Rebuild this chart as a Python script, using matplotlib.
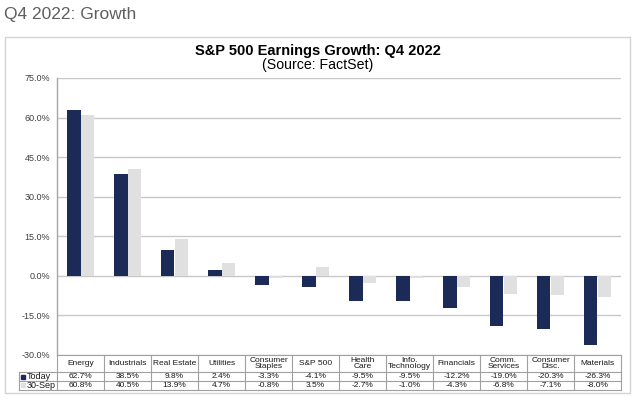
import matplotlib
matplotlib.use("Agg")
import matplotlib.pyplot as plt
from matplotlib.patches import Rectangle
from matplotlib.transforms import blended_transform_factory
import numpy as np

plt.rcParams['font.family'] = ['Liberation Sans', 'DejaVu Sans']

categories = ["Energy", "Industrials", "Real Estate", "Utilities", "Consumer\nStaples",
              "S&P 500", "Health\nCare", "Info.\nTechnology", "Financials", "Comm.\nServices",
              "Consumer\nDisc.", "Materials"]
today = [62.7, 38.5, 9.8, 2.4, -3.3, -4.1, -9.5, -9.5, -12.2, -19.0, -20.3, -26.3]
sep30 = [60.8, 40.5, 13.9, 4.7, -0.8, 3.5, -2.7, -1.0, -4.3, -6.8, -7.1, -8.0]
series_names = ["Today", "30-Sep"]
yticks = [-30, -15, 0, 15, 30, 45, 60, 75]

DARK = "#1b2a56"
LIGHT = "#e0e0e0"
W, H = 640, 400

fig = plt.figure(figsize=(6.4, 4.0), dpi=100)

# page title
fig.text(4 / W, 1 - 14 / H, "Q4 2022: Growth", fontsize=12.5, color="#5f5f5f",
         va="center", ha="left")

# chart box
fig.patches.append(Rectangle((5 / W, 1 - 393 / H), 625 / W, 356 / H,
                             transform=fig.transFigure, fill=False,
                             edgecolor="#d4d4d4", linewidth=1.0))

cx = (5 + 630) / 2 / W
fig.text(cx, 1 - 51 / H, "S&P 500 Earnings Growth: Q4 2022", fontsize=10.5,
         fontweight="bold", ha="center", va="center", color="#000000")
fig.text(cx, 1 - 64.5 / H, "(Source: FactSet)", fontsize=10.2, ha="center",
         va="center", color="#000000")

ax_top, ax_bot, ax_left, ax_right = 78, 355, 57, 621
ax = fig.add_axes([ax_left / W, 1 - ax_bot / H, (ax_right - ax_left) / W,
                   (ax_bot - ax_top) / H])

x = np.arange(len(categories))
bw = 0.28
ax.bar(x - bw / 2, today, width=bw, color=DARK, zorder=3)
ax.bar(x + bw / 2, sep30, width=bw, color=LIGHT, zorder=3)

ax.set_xlim(-0.5, len(categories) - 0.5)
ax.set_ylim(yticks[0], yticks[-1])
ax.set_yticks(yticks)
ax.set_yticklabels([f"{v:.1f}%" for v in yticks], fontsize=6.5, color="#404040")
ax.tick_params(axis="y", length=0, pad=5)
ax.set_xticks([])
ax.yaxis.grid(True, color="#c8c8c8", linewidth=1.0, zorder=0)
ax.set_axisbelow(True)
for s in ["top", "right", "bottom"]:
    ax.spines[s].set_visible(False)
ax.spines["left"].set_color("#a6a6a6")
ax.spines["left"].set_linewidth(1.0)

# data table
axh = ax_bot - ax_top
trans = blended_transform_factory(ax.transData, ax.transAxes)
y0 = 0.0
y1 = -17 / axh
y2 = -26 / axh
y3 = -34.5 / axh
xl = -0.5 - 38 / ((ax_right - ax_left) / len(categories))
xr = len(categories) - 0.5
lc = "#a0a0a0"
lw = 0.8

def hline(y, xa, xb):
    ax.plot([xa, xb], [y, y], color=lc, lw=lw, transform=trans, clip_on=False)

def vline(xv, ya, yb):
    ax.plot([xv, xv], [ya, yb], color=lc, lw=lw, transform=trans, clip_on=False)

hline(y0, -0.5, xr)
for yy in (y1, y2, y3):
    hline(yy, xl, xr)
vline(xl, y1, y3)
for b in np.arange(-0.5, len(categories), 1.0):
    vline(b, y0, y3)

for i, c in enumerate(categories):
    ax.text(i, (y0 + y1) / 2, c, transform=trans, ha="center", va="center",
            fontsize=6, color="#1a1a1a", linespacing=0.95, clip_on=False)
    ax.text(i, (y1 + y2) / 2, f"{today[i]:.1f}%", transform=trans, ha="center",
            va="center", fontsize=6, color="#1a1a1a", clip_on=False)
    ax.text(i, (y2 + y3) / 2, f"{sep30[i]:.1f}%", transform=trans, ha="center",
            va="center", fontsize=6, color="#1a1a1a", clip_on=False)

for name, col, ya, yb in ((series_names[0], DARK, y1, y2), (series_names[1], LIGHT, y2, y3)):
    ym = (ya + yb) / 2
    ax.plot([xl + 0.09], [ym], marker="s", markersize=3.2, color=col,
            transform=trans, clip_on=False, linestyle="none")
    ax.text(xl + 0.17, ym, name, transform=trans, ha="left", va="center",
            fontsize=6.5, color="#1a1a1a", clip_on=False)

fig.savefig("out.png", dpi=100)
